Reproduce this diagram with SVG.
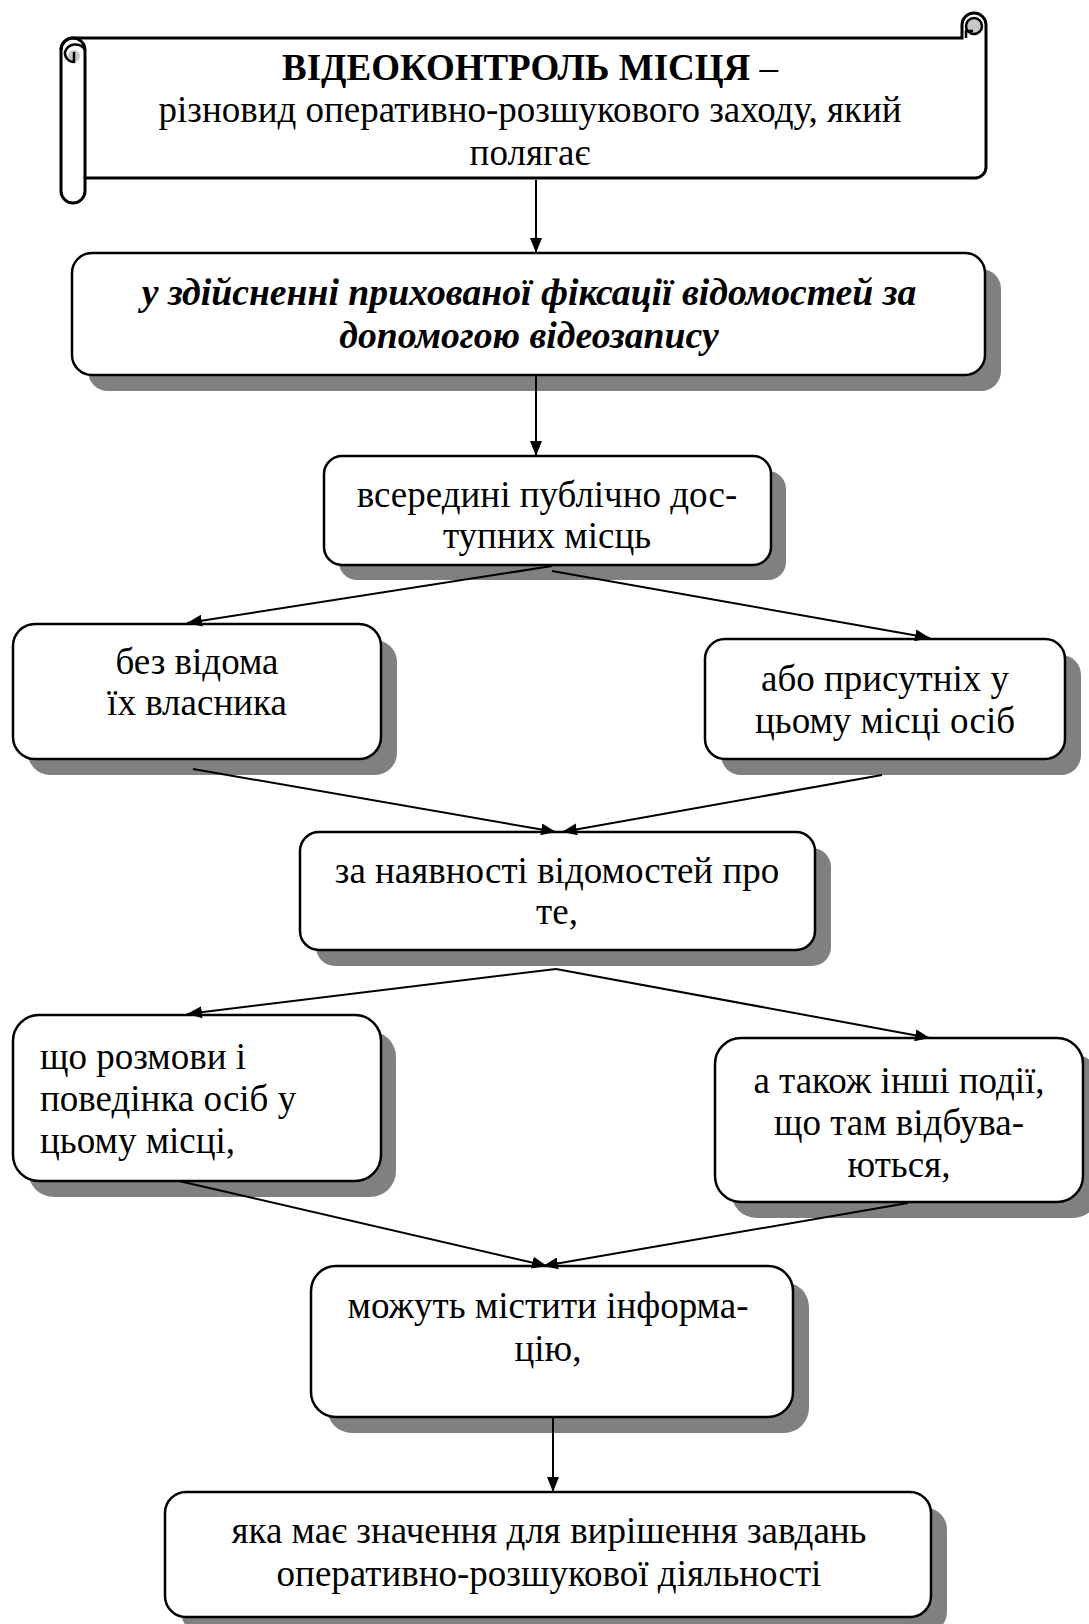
<svg xmlns="http://www.w3.org/2000/svg" width="1089" height="1624" viewBox="0 0 1089 1624">
<defs>
<style>
.box{fill:#fff;stroke:#000;stroke-width:2.5}
.sh{fill:#808080;stroke:none}
.t{font-family:"Liberation Serif","Times New Roman",serif;font-size:37px;fill:#000}
.c{text-anchor:middle}
.bi{font-weight:bold;font-style:italic;font-size:37.7px}
.b{font-weight:bold}
.ln{stroke:#000;stroke-width:2;fill:none;marker-end:url(#ah)}
</style>
<marker id="ah" markerUnits="userSpaceOnUse" markerWidth="16" markerHeight="12" refX="15" refY="6" orient="auto">
<path d="M0,0 L15,6 L0,12 Z" fill="#000"/>
</marker>
</defs>
<rect width="1089" height="1624" fill="#fff"/>

<g id="n1">
<path d="M73,38 L962,38 L962,25 A12,12 0 0 1 986,25 L986,167 A11,11 0 0 1 975,178 L85,178 L85,191 A12,12 0 0 1 61,191 L61,50 A12,12 0 0 1 73,38 Z" fill="#fff" stroke="#000" stroke-width="3"/>
<circle cx="974" cy="26" r="8" fill="#c8c8c8" stroke="#000" stroke-width="2.5"/>
<path d="M966,38 L966,31 L973,31" fill="none" stroke="#000" stroke-width="2.5"/>
<path d="M61,50 A12,12 0 0 1 85,50 L85,178" fill="none" stroke="#000" stroke-width="3"/>
<path d="M74,62 A6,6 0 0 1 74,50 A6,6 0 0 1 80,56 A6,6 0 0 1 74,62 Z" fill="#c8c8c8" stroke="none"/>
<path d="M85,50 A11,11 0 0 0 65,52 A9,9 0 0 0 74,62 L74,52" fill="none" stroke="#000" stroke-width="2.5"/>
<text class="t c" x="530" y="80"><tspan class="b">ВІДЕОКОНТРОЛЬ МІСЦЯ</tspan> –</text>
<text class="t c" x="530" y="122">різновид оперативно-розшукового заходу, який</text>
<text class="t c" x="530" y="165">полягає</text>
</g>

<g id="n2">
<rect class="sh" x="88" y="269" width="913" height="122" rx="20"/>
<rect class="box" x="72" y="253" width="913" height="122" rx="20"/>
<text class="t c bi" x="529" y="305">у здійсненні прихованої фіксації відомостей за</text>
<text class="t c bi" x="529" y="348">допомогою відеозапису</text>
</g>

<g id="n3">
<rect class="sh" x="339" y="471" width="447" height="109" rx="18"/>
<rect class="box" x="324" y="456" width="447" height="109" rx="18"/>
<text class="t c" x="547" y="507">всередині публічно дос-</text>
<text class="t c" x="547" y="548">тупних місць</text>
</g>

<g id="n4">
<rect class="sh" x="28" y="640" width="369" height="135" rx="22"/>
<rect class="box" x="13" y="624" width="368" height="135" rx="22"/>
<text class="t c" x="197" y="674">без відома</text>
<text class="t c" x="197" y="715">їх власника</text>
</g>

<g id="n5">
<rect class="sh" x="721" y="655" width="360" height="120" rx="20"/>
<rect class="box" x="705" y="639" width="360" height="120" rx="20"/>
<text class="t c" x="885" y="691">або присутніх у</text>
<text class="t c" x="885" y="733">цьому місці осіб</text>
</g>

<g id="n6">
<rect class="sh" x="316" y="848" width="515" height="118" rx="19"/>
<rect class="box" x="300" y="832" width="515" height="118" rx="19"/>
<text class="t c" x="557" y="883">за наявності відомостей про</text>
<text class="t c" x="557" y="924">те,</text>
</g>

<g id="n7">
<rect class="sh" x="28" y="1031" width="368" height="166" rx="26"/>
<rect class="box" x="13" y="1015" width="368" height="166" rx="26"/>
<text class="t" x="40" y="1069">що розмови і</text>
<text class="t" x="40" y="1111">поведінка осіб у</text>
<text class="t" x="40" y="1153">цьому місці,</text>
</g>

<g id="n8">
<rect class="sh" x="731" y="1054" width="368" height="164" rx="26"/>
<rect class="box" x="715" y="1038" width="368" height="164" rx="26"/>
<text class="t c" x="899" y="1093">а також інші події,</text>
<text class="t c" x="899" y="1135">що там відбува-</text>
<text class="t c" x="899" y="1177">ються,</text>
</g>

<g id="n9">
<rect class="sh" x="327" y="1282" width="482" height="151" rx="25"/>
<rect class="box" x="311" y="1266" width="482" height="151" rx="25"/>
<text class="t c" x="548" y="1318">можуть містити інформа-</text>
<text class="t c" x="548" y="1361">цію,</text>
</g>

<g id="n10">
<rect class="sh" x="181" y="1508" width="766" height="125" rx="21"/>
<rect class="box" x="165" y="1492" width="766" height="125" rx="21"/>
<text class="t c" x="549" y="1543">яка має значення для вирішення завдань</text>
<text class="t c" x="549" y="1586">оперативно-розшукової діяльності</text>
</g>

<g id="connectors">
<line class="ln" x1="536" y1="180" x2="536" y2="253"/>
<line class="ln" x1="536" y1="376" x2="536" y2="456"/>
<line class="ln" x1="552" y1="566" x2="187" y2="623"/>
<line class="ln" x1="552" y1="571" x2="930" y2="638"/>
<line class="ln" x1="193" y1="769" x2="556" y2="832"/>
<line class="ln" x1="882" y1="775" x2="562" y2="832"/>
<line class="ln" x1="556" y1="969" x2="187" y2="1014"/>
<line class="ln" x1="556" y1="969" x2="930" y2="1038"/>
<line class="ln" x1="179" y1="1181" x2="547" y2="1266"/>
<line class="ln" x1="908" y1="1203" x2="543" y2="1266"/>
<line class="ln" x1="553" y1="1417" x2="553" y2="1492"/>
</g>
</svg>
